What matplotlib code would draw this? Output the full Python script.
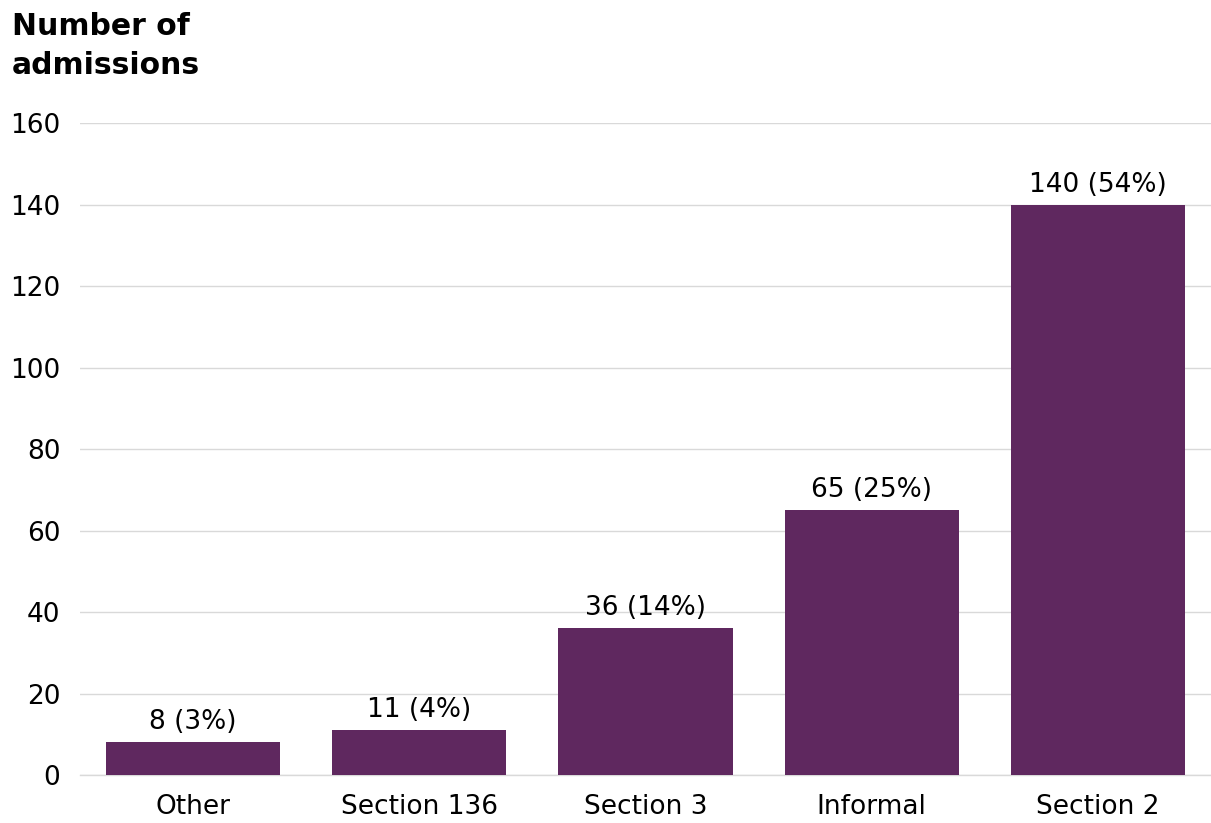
import matplotlib.pyplot as plt

categories = ["Other", "Section 136", "Section 3", "Informal", "Section 2"]
admissions = [8, 11, 36, 65, 140]
shares = [3, 4, 14, 25, 54]
yticks = [0, 20, 40, 60, 80, 100, 120, 140, 160]

bar_colour = "#5f285f"

fig = plt.figure(figsize=(12.11, 8.23), dpi=100)
ax = fig.add_axes([0.066, 0.0583, 0.934, 0.7922])

x = list(range(len(categories)))
bars = ax.bar(x, admissions, width=0.77, color=bar_colour, zorder=3)

for xi, v, s in zip(x, admissions, shares):
	ax.annotate(f"{v} ({s}%)", (xi, v), xytext=(0, 5), textcoords="offset points",
		ha="center", va="bottom", fontsize=19, color="#000000")

ax.set_xlim(-0.5, 4.5)
ax.set_ylim(0, 160)
ax.set_yticks(yticks)
ax.set_xticks(x)
ax.set_xticklabels(categories)
ax.tick_params(axis="both", length=0, labelsize=19, colors="#000000")
ax.tick_params(axis="y", pad=14)
ax.tick_params(axis="x", pad=14)
ax.grid(axis="y", color="#d9d9d9", linewidth=1, zorder=0)
ax.axhline(0, color="#d9d9d9", linewidth=1, zorder=1, clip_on=False)
for sp in ax.spines.values():
	sp.set_visible(False)

fig.text(0.01, 0.985, "Number of\nadmissions", ha="left", va="top",
	fontsize=21.5, fontweight="bold", linespacing=1.4)

fig.savefig("out.png", dpi=100)
